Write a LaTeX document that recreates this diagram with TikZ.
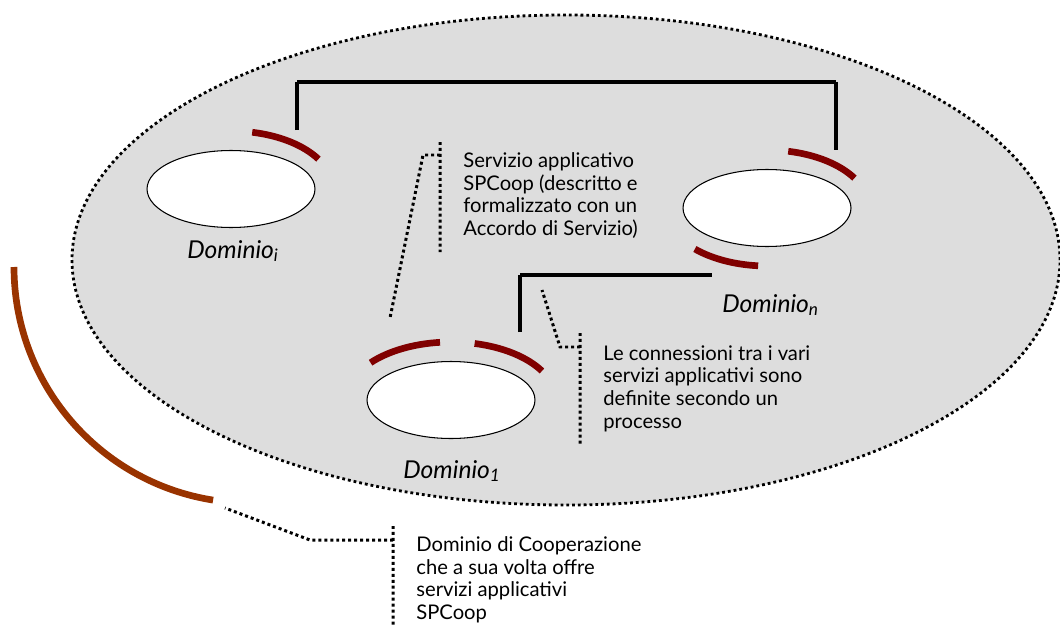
\documentclass[tikz,border=0pt]{standalone}
\usepackage{fontspec}
\setmainfont{Lato}
\usetikzlibrary{shapes.geometric}
\definecolor{grayarea}{RGB}{221,221,221}
\definecolor{servred}{RGB}{128,0,0}
\definecolor{coopbrown}{RGB}{153,51,0}
\tikzset{
	dom/.style={draw,ellipse,fill=white,line width=0.6pt,inner sep=0pt,minimum width=3.36cm,minimum height=1.54cm},
	domlabel/.style={anchor=base west,inner sep=0pt,font=\fontsize{14}{16}\selectfont\itshape},
	note/.style={anchor=north west,inner sep=0pt,align=left,font=\fontsize{11.5}{13}\selectfont},
	serv/.style={draw=servred,line width=3.8pt},
	link/.style={draw,line width=2pt},
	callout/.style={draw,line width=1.7pt,dash pattern=on 1.7pt off 1.7pt},
}
\begin{document}
\begin{tikzpicture}[x=0.02cm,y=0.02cm]
	\useasboundingbox (0,0) rectangle (1060,-625);
	\path[fill=grayarea,draw,line width=1.6pt,dash pattern=on 1.6pt off 1.7pt] (566,-260) ellipse [x radius=494,y radius=245];
	\draw[draw=coopbrown,line width=3.8pt] (14,-267) arc[start angle=180,end angle=261,radius=236];
	\node[dom] (di) at (231,-189) {};
	\node[dom] (dn) at (767,-208) {};
	\node[dom] (d1) at (451,-400) {};
	\node[domlabel] (li) at (187,-258) {Dominio\textsubscript{i}};
	\node[domlabel] (ln) at (722,-312) {Dominio\textsubscript{n}};
	\node[domlabel] (l1) at (403,-478) {Dominio\textsubscript{1}};
	\draw[serv] (di.center) ++(78:102 and 58) arc[start angle=78,end angle=31,x radius=102,y radius=58];
	\draw[serv] (dn.center) ++(78:102 and 58) arc[start angle=78,end angle=31,x radius=102,y radius=58];
	\draw[serv] (dn.center) ++(225:102 and 58) arc[start angle=225,end angle=265,x radius=102,y radius=58];
	\draw[serv] (d1.center) ++(140:105 and 58) arc[start angle=140,end angle=96,x radius=105,y radius=58];
	\draw[serv] (d1.center) ++(77:105 and 58) arc[start angle=77,end angle=30,x radius=105,y radius=58];
	\coordinate (pi) at (297,-130);
	\coordinate (ti) at (297,-82);
	\coordinate (tn) at (836,-82);
	\coordinate (pn) at (836,-150);
	\coordinate (p1) at (520,-332);
	\coordinate (t1) at (520,-275);
	\coordinate (qn) at (712,-275);
	\path
	(pi) edge[link] (ti)
	(ti) edge[link] (tn)
	(tn) edge[link] (pn)
	(p1) edge[link] (t1)
	(t1) edge[link] (qn)
	;
	\node[note] (s1) at (463,-152) {Servizio applicativo\\SPCoop (descritto e\\formalizzato con un\\Accordo di Servizio)};
	\node[note] (s2) at (603,-345) {Le connessioni tra i vari\\servizi applicativi sono\\definite secondo un\\processo};
	\node[note] (s3) at (416,-536) {Dominio di Cooperazione\\che a sua volta offre\\servizi applicativi\\SPCoop};
	\coordinate (a1) at (440,-142);
	\coordinate (a2) at (440,-252);
	\coordinate (a3) at (440,-155);
	\coordinate (a4) at (423,-155);
	\coordinate (a5) at (390,-318);
	\coordinate (b1) at (580,-333);
	\coordinate (b2) at (580,-444);
	\coordinate (b3) at (580,-347);
	\coordinate (b4) at (560,-347);
	\coordinate (b5) at (542,-290);
	\coordinate (c1) at (393,-526);
	\coordinate (c2) at (393,-625);
	\coordinate (c3) at (393,-540);
	\coordinate (c4) at (310,-540);
	\coordinate (c5) at (225,-508);
	\draw[callout] (a1) -- (a2) (a3) -- (a4) -- (a5);
	\draw[callout] (b1) -- (b2) (b3) -- (b4) -- (b5);
	\draw[callout] (c1) -- (c2) (c3) -- (c4) -- (c5);
\end{tikzpicture}
\end{document}
